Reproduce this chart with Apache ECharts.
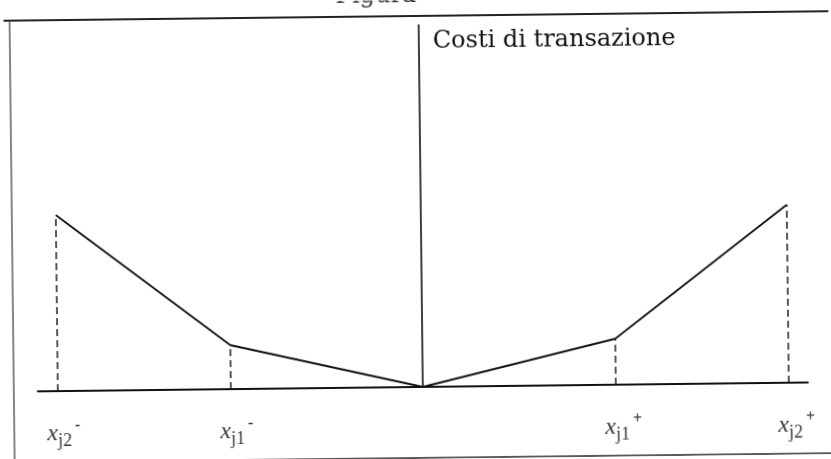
<!DOCTYPE html>
<html><head><meta charset="utf-8">
<script src="https://cdn.jsdelivr.net/npm/echarts@6/dist/echarts.min.js"></script>
<style>
html,body{margin:0;padding:0;background:#fff;overflow:hidden;}
#c{width:831px;height:459px;transform:rotate(-0.66deg);transform-origin:50% 50%;background:#fff;}
</style></head><body><div id="c"></div>
<script>
// Schematic piecewise-linear transaction cost function
const pointNames = ['x_j2-', 'x_j1-', 'origin', 'x_j1+', 'x_j2+'];
const xPositions = [-365, -192, 0, 193, 366];
const costValues = [176, 44, 0, 46, 178];
const breakpointIdx = [0, 1, 3, 4];
const labelMain = ['x', 'x', 'x', 'x'];
const labelSubs = ['j2', 'j1', 'j1', 'j2'];
const labelSigns = ['-', '-', '+', '+'];
const yAxisTitle = 'Costi di transazione';
const figureTitle = 'Figura';

const ink = '#111';
const serif = 'Liberation Serif';
const chart = echarts.init(document.getElementById('c'), null, {renderer: 'canvas'});

const series = [];
series.push({
  type: 'line', name: 'Costi', data: xPositions.map((x, i) => [x, costValues[i]]),
  symbol: 'none', silent: true, animation: false,
  lineStyle: {color: ink, width: 1.8}, z: 5
});
breakpointIdx.forEach(i => {
  series.push({
    type: 'line', data: [[xPositions[i], 0], [xPositions[i], costValues[i]]],
    symbol: 'none', silent: true, animation: false,
    lineStyle: {color: ink, width: 1.4, type: [7, 4]}, z: 4
  });
});
series.push({
  type: 'scatter', symbolSize: 0, silent: true, animation: false,
  data: breakpointIdx.map(i => [xPositions[i], 0]),
  label: {
    show: true, position: [-11, 27],
    fontFamily: serif, color: '#000',
    formatter: p => '{x|' + labelMain[p.dataIndex] + '}{sub|' + labelSubs[p.dataIndex] + '}{sup|' + labelSigns[p.dataIndex] + '}',
    rich: {
      x: {fontFamily: serif, fontStyle: 'italic', fontSize: 24, color: '#000', lineHeight: 32, verticalAlign: 'middle'},
      sub: {fontFamily: serif, fontSize: 18, color: '#000', lineHeight: 18, verticalAlign: 'bottom'},
      sup: {fontFamily: serif, fontSize: 16, fontWeight: 'bold', color: '#000', lineHeight: 16, verticalAlign: 'top', padding: [0, 0, 0, 3]}
    }
  }
});

chart.setOption({
  animation: false,
  backgroundColor: '#fff',
  grid: {left: 36, right: 25, top: 25, bottom: 72},
  xAxis: {
    type: 'value', min: -385, max: 385,
    axisLine: {show: true, onZero: true, lineStyle: {color: ink, width: 2.2}},
    axisTick: {show: false}, axisLabel: {show: false}, splitLine: {show: false}
  },
  yAxis: {
    type: 'value', min: 0, max: 362,
    axisLine: {show: true, onZero: true, lineStyle: {color: ink, width: 1.6}},
    axisTick: {show: false}, axisLabel: {show: false}, splitLine: {show: false}
  },
  graphic: [
    {type: 'line', shape: {x1: 6, y1: 16, x2: 860, y2: 16}, style: {stroke: '#222', lineWidth: 2}, silent: true},
    {type: 'line', shape: {x1: 12, y1: 16, x2: 12, y2: 470}, style: {stroke: '#444', lineWidth: 1.3}, silent: true},
    {type: 'line', shape: {x1: 12, y1: 458, x2: 860, y2: 458}, style: {stroke: '#222', lineWidth: 1.6}, silent: true},
    {type: 'text', x: 435, y: 42, silent: true,
     style: {text: yAxisTitle, font: '24px "DejaVu Serif"', fill: ink, align: 'left', verticalAlign: 'middle'}},
    {type: 'text', x: 338, y: -4, silent: true,
     style: {text: figureTitle, font: '24px "DejaVu Serif"', fill: '#333', align: 'left', verticalAlign: 'middle'}}
  ],
  series: series
});
</script></body></html>
